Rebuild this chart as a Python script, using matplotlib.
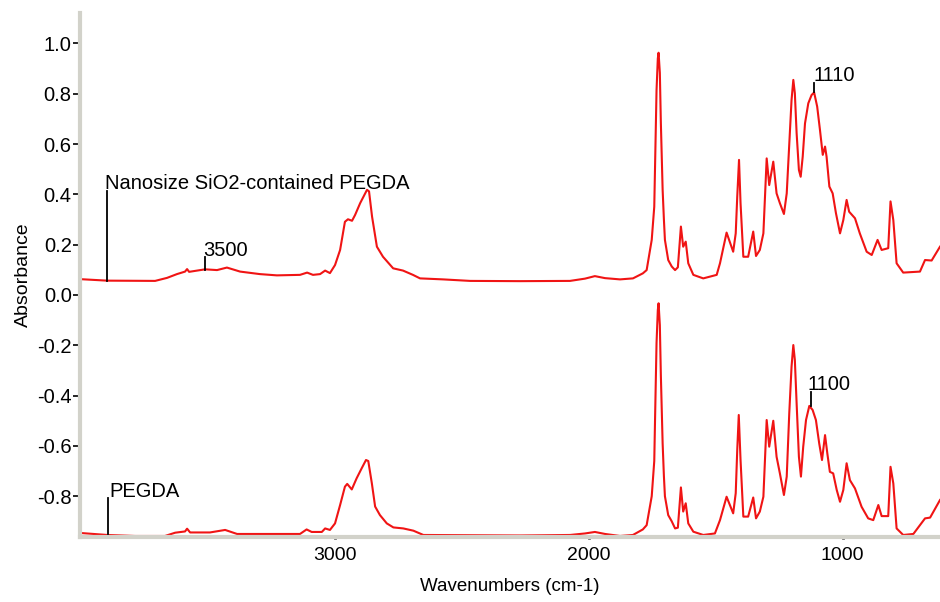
import numpy as np
import matplotlib
matplotlib.use("Agg")
import matplotlib.pyplot as plt
from matplotlib.ticker import MultipleLocator, FixedLocator

plt.rcParams['font.family'] = ['Liberation Sans', 'DejaVu Sans']

# Nanosize SiO2-contained PEGDA (upper trace)
wn_top = [4005, 3898, 3709, 3662, 3623, 3591, 3583, 3575, 3512, 3465, 3426, 3374,
          3296, 3229, 3138, 3110, 3087, 3059, 3039, 3020, 3000, 2980, 2961, 2949,
          2933, 2921, 2901, 2874, 2866, 2854, 2835, 2811, 2771, 2732, 2693, 2665,
          2574, 2468, 2271, 2074, 2015, 1976, 1936, 1877, 1826, 1787, 1772, 1752,
          1742, 1739, 1733, 1728, 1725, 1720, 1716, 1709, 1704, 1700, 1687, 1673,
          1660, 1649, 1637, 1628, 1618, 1608, 1588, 1549, 1496, 1483, 1457, 1431,
          1421, 1415, 1408, 1402, 1391, 1372, 1352, 1341, 1326, 1312, 1299, 1289,
          1273, 1260, 1247, 1231, 1220, 1210, 1201, 1194, 1188, 1181, 1172, 1165,
          1157, 1148, 1135, 1122, 1112, 1100, 1089, 1078, 1069, 1063, 1052, 1039,
          1026, 1010, 997, 984, 974, 951, 932, 905, 885, 862, 846, 820, 811, 800,
          787, 761, 695, 675, 649, 616]
abs_top = [0.063, 0.057, 0.056, 0.068, 0.083, 0.093, 0.103, 0.092, 0.102, 0.099, 0.109, 0.093,
           0.083, 0.078, 0.080, 0.089, 0.080, 0.083, 0.097, 0.087, 0.119, 0.179, 0.291, 0.301,
           0.295, 0.318, 0.365, 0.418, 0.412, 0.311, 0.192, 0.152, 0.106, 0.097, 0.080, 0.066,
           0.062, 0.056, 0.055, 0.056, 0.065, 0.075, 0.067, 0.062, 0.066, 0.086, 0.099, 0.219,
           0.351, 0.510, 0.815, 0.940, 0.963, 0.883, 0.684, 0.418, 0.300, 0.219, 0.139, 0.113,
           0.099, 0.110, 0.272, 0.192, 0.212, 0.126, 0.080, 0.066, 0.080, 0.126, 0.248, 0.172,
           0.245, 0.391, 0.537, 0.365, 0.152, 0.152, 0.252, 0.155, 0.179, 0.245, 0.543, 0.437,
           0.530, 0.404, 0.365, 0.322, 0.404, 0.603, 0.775, 0.855, 0.802, 0.643, 0.497, 0.470,
           0.550, 0.682, 0.762, 0.795, 0.805, 0.749, 0.656, 0.557, 0.590, 0.550, 0.431, 0.404,
           0.325, 0.245, 0.298, 0.378, 0.331, 0.305, 0.245, 0.172, 0.159, 0.219, 0.179, 0.186,
           0.372, 0.298, 0.126, 0.089, 0.093, 0.139, 0.137, 0.192]

# PEGDA (lower trace)
wn_bot = [4005, 3898, 3788, 3670, 3630, 3591, 3583, 3571, 3493, 3433, 3386, 3138,
          3112, 3092, 3052, 3039, 3020, 3000, 2980, 2961, 2952, 2934, 2915, 2895,
          2878, 2869, 2855, 2842, 2823, 2796, 2770, 2731, 2691, 2652, 2271, 2074,
          2015, 1976, 1936, 1877, 1826, 1787, 1772, 1752, 1742, 1739, 1733, 1728,
          1725, 1720, 1716, 1709, 1704, 1700, 1687, 1673, 1660, 1649, 1637, 1628,
          1618, 1608, 1588, 1549, 1503, 1483, 1457, 1431, 1421, 1415, 1409, 1402,
          1391, 1372, 1352, 1341, 1326, 1312, 1299, 1289, 1273, 1260, 1247, 1231,
          1220, 1210, 1201, 1194, 1188, 1181, 1172, 1164, 1155, 1144, 1131, 1118,
          1105, 1092, 1081, 1069, 1060, 1050, 1037, 1023, 1010, 997, 984, 971,
          951, 925, 899, 879, 859, 846, 820, 811, 800, 787, 761, 721, 675, 655, 616]
abs_bot = [-0.946, -0.954, -0.958, -0.958, -0.945, -0.940, -0.929, -0.944, -0.944, -0.934, -0.950, -0.950,
           -0.932, -0.942, -0.942, -0.928, -0.934, -0.908, -0.835, -0.762, -0.751, -0.773, -0.729, -0.689,
           -0.656, -0.660, -0.748, -0.841, -0.875, -0.908, -0.924, -0.928, -0.937, -0.954, -0.956, -0.954,
           -0.948, -0.942, -0.950, -0.958, -0.954, -0.932, -0.915, -0.800, -0.660, -0.500, -0.190, -0.060,
           -0.033, -0.120, -0.320, -0.590, -0.720, -0.800, -0.875, -0.900, -0.928, -0.925, -0.765, -0.861,
           -0.828, -0.908, -0.941, -0.954, -0.948, -0.895, -0.802, -0.868, -0.788, -0.616, -0.477, -0.656,
           -0.881, -0.881, -0.805, -0.888, -0.861, -0.802, -0.497, -0.603, -0.500, -0.643, -0.709, -0.795,
           -0.722, -0.470, -0.285, -0.199, -0.258, -0.431, -0.643, -0.722, -0.603, -0.497, -0.441, -0.457,
           -0.497, -0.590, -0.656, -0.557, -0.630, -0.703, -0.709, -0.775, -0.822, -0.775, -0.669, -0.736,
           -0.769, -0.842, -0.888, -0.895, -0.835, -0.879, -0.879, -0.683, -0.749, -0.928, -0.954, -0.950,
           -0.888, -0.885, -0.815]

# annotations: text, x of marker line, line bottom/top, text x
labels = ["Nanosize SiO2-contained PEGDA", "3500", "1110", "PEGDA", "1100"]
label_x = [3898, 3512, 1113, 3894, 1125]
line_lo = [0.057, 0.099, 0.805, -0.954, -0.440]
line_hi = [0.415, 0.150, 0.844, -0.808, -0.385]
text_x = [3908, 3520, 1116, 3888, 1138]

fig = plt.figure(figsize=(9.4, 6.02), dpi=100)
ax = fig.add_axes([0.0851, 0.108, 0.9149, 0.87])

ax.plot(wn_top, abs_top, color='#f01414', lw=1.5)
ax.plot(wn_bot, abs_bot, color='#f01414', lw=1.5)

for t, x, lo, hi, tx in zip(labels, label_x, line_lo, line_hi, text_x):
    ax.plot([x, x], [lo, hi], color='black', lw=1.3)
    ax.text(tx, hi + 0.006, t, fontsize=14.5, ha='left', va='baseline')

ax.set_xlim(4005, 616)
ax.set_ylim(-0.962, 1.12)

ax.xaxis.set_major_locator(FixedLocator([3000, 2000, 1000]))
ax.xaxis.set_minor_locator(MultipleLocator(250))
ax.yaxis.set_major_locator(MultipleLocator(0.2))
ax.yaxis.set_minor_locator(MultipleLocator(0.02))
ax.yaxis.set_major_formatter(plt.FuncFormatter(lambda v, p: f"{v:.1f}"))

for s in ['top', 'right']:
    ax.spines[s].set_visible(False)
for s in ['left', 'bottom']:
    ax.spines[s].set_color('#d2d2ca')
    ax.spines[s].set_linewidth(3)

ax.tick_params(axis='y', which='major', direction='out', length=5, width=1.2,
               labelsize=14.5, pad=1)
ax.tick_params(axis='y', which='minor', direction='inout', length=2, width=1.5)
ax.tick_params(axis='x', which='major', direction='inout', length=3, width=2,
               labelsize=14, pad=6)
ax.tick_params(axis='x', which='minor', direction='inout', length=2, width=1.5)

ax.set_ylabel("Absorbance", fontsize=14, labelpad=4)
ax.set_xlabel("Wavenumbers (cm-1)", fontsize=13.5, labelpad=10)

fig.savefig("out.png", dpi=100)
